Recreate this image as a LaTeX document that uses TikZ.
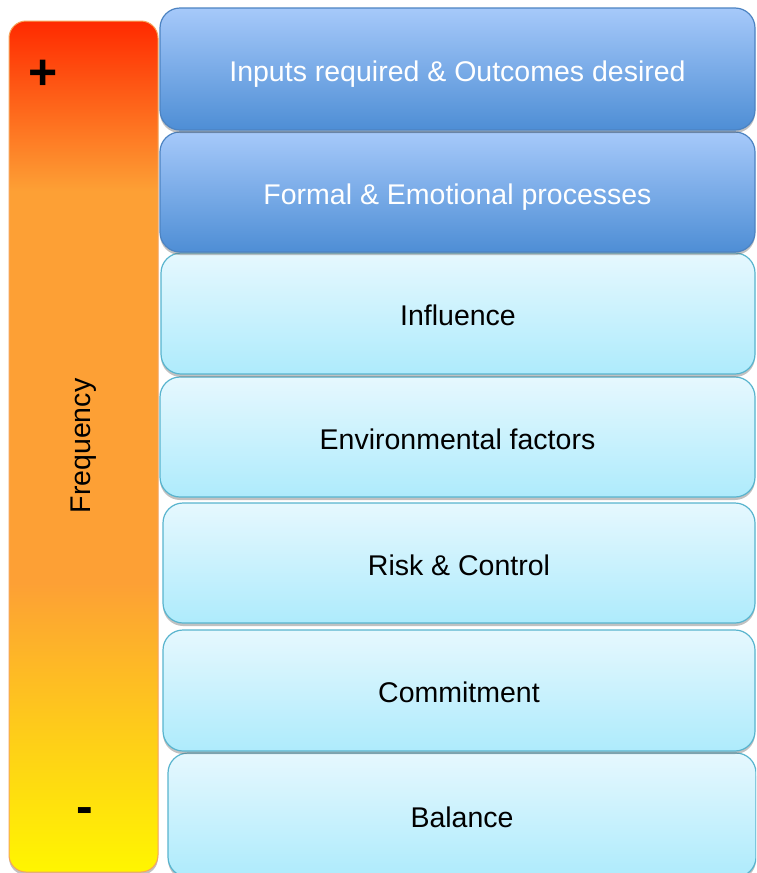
\documentclass[tikz,border=0pt]{standalone}
\usepackage{fontspec}
\setmainfont{Liberation Sans}
\usepackage{tikz}
\usetikzlibrary{shadows}

\definecolor{barRed}{HTML}{FF2A00}
\definecolor{barOrange}{HTML}{FDA035}
\definecolor{barYellow}{HTML}{FFF600}
\definecolor{barEdge}{HTML}{F6A55C}
\definecolor{blueTop}{HTML}{A6C9FA}
\definecolor{blueBot}{HTML}{4E8ED5}
\definecolor{blueEdge}{HTML}{4C83C2}
\definecolor{cyanTop}{HTML}{E6F8FE}
\definecolor{cyanBot}{HTML}{AEEBFC}
\definecolor{cyanEdge}{HTML}{58B4CE}

\pgfdeclareverticalshading{freqshade}{100bp}{color(0bp)=(barYellow); color(25bp)=(barYellow);
  color(42bp)=(barOrange); color(65bp)=(barOrange); color(75bp)=(barRed); color(100bp)=(barRed)}

\begin{document}
\begin{tikzpicture}[x=1pt, y=-1pt,
    boxshadow/.style={drop shadow={shadow xshift=0pt, shadow yshift=-3pt, opacity=0.4, fill=black!60}},
    darkbox/.style={rounded corners=20pt, draw=blueEdge, line width=1.2pt, top color=blueTop,
        bottom color=blueBot, text=white, inner sep=0pt, minimum height=121pt,
        text height=24pt, text depth=0pt, font=\fontsize{28.5}{34}\selectfont, boxshadow},
    lightbox/.style={rounded corners=20pt, draw=cyanEdge, line width=1.2pt, top color=cyanTop,
        bottom color=cyanBot, text=black, inner sep=0pt, minimum height=121pt,
        text height=24pt, text depth=0pt, font=\fontsize{28.5}{34}\selectfont, boxshadow}]
    \useasboundingbox (0,0) rectangle (756,873);
    \fill[white] (0,0) rectangle (756,873);
    \clip (0,0) rectangle (756,873);

    % frequency scale on the left
    \node[rounded corners=17pt, draw=barEdge, line width=1pt, shading=freqshade, inner sep=0pt,
        minimum width=149pt, minimum height=851pt, boxshadow] at (83.5,446.5) (freqbar) {};
    \node[font=\fontsize{50}{50}\bfseries\selectfont] at (43,75) (plus) {+};
    \node[rotate=90, font=\fontsize{28.5}{34}\selectfont] at (84,446) (freq) {Frequency};
    \node[font=\fontsize{50}{50}\bfseries\selectfont] at (84.5,816) (minus) {-};

    % stacked boxes, drawn from the bottom up so the shadows fall on the next box
    \node[lightbox, minimum width=588pt, minimum height=124pt] at (462,815) (balance) {Balance};
    \node[lightbox, minimum width=592pt] at (459,690.5) (commitment) {Commitment};
    \node[lightbox, minimum width=592pt, minimum height=120pt] at (459,563) (risk) {Risk \& Control};
    \node[lightbox, minimum width=595pt, minimum height=120pt] at (457.5,437) (envfactors) {Environmental factors};
    \node[lightbox, minimum width=594pt] at (458,313.5) (influence) {Influence};
    \node[darkbox, minimum width=595pt, minimum height=120pt] at (457.5,192) (formal) {Formal \& Emotional processes};
    \node[darkbox, minimum width=595pt, minimum height=122pt] at (457.5,69) (inputs) {Inputs required \& Outcomes desired};
\end{tikzpicture}
\end{document}
